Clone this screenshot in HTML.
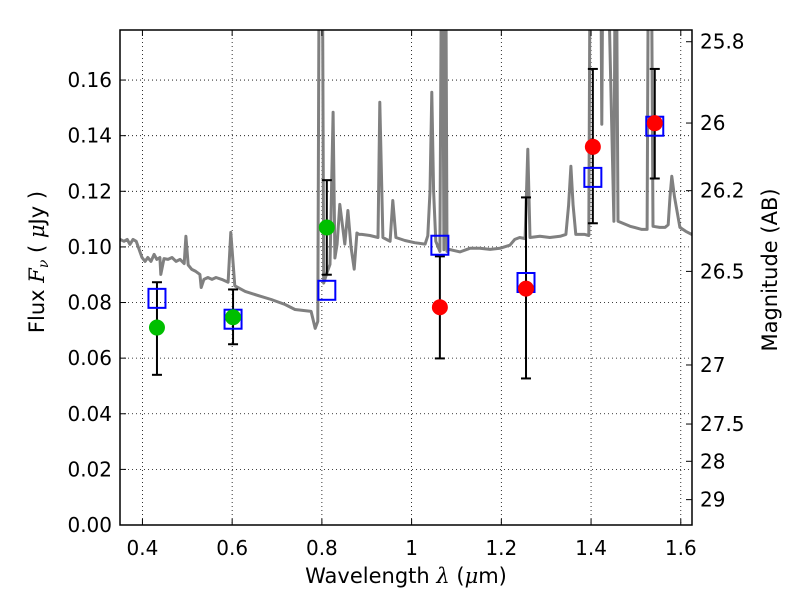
<!DOCTYPE html>
<html><head><meta charset="utf-8"><style>
body{margin:0;background:#fff}
svg text{font-family:"DejaVu Sans","Liberation Sans",sans-serif;fill:#000}
</style></head><body>
<svg id="chart" width="800" height="600" xmlns="http://www.w3.org/2000/svg">
<defs><clipPath id="clip"><rect x="120" y="30" width="572" height="495"/></clipPath></defs>
<g id="grid"></g>
<g id="spec" clip-path="url(#clip)"></g>
<g id="marks"></g>
<rect x="120" y="30" width="572" height="495" fill="none" stroke="#000" stroke-width="1.5"/>
<g id="axes"></g>
<text x="406" y="583" font-size="21" text-anchor="middle">Wavelength  <tspan font-style="italic" font-family="DejaVu Serif,serif">λ</tspan> (<tspan font-style="italic" font-family="DejaVu Serif,serif">μ</tspan>m)</text>
<text transform="translate(44,262) rotate(-90)" font-size="21" text-anchor="middle">Flux  <tspan font-style="italic" font-family="DejaVu Serif,serif">F</tspan><tspan font-style="italic" font-family="DejaVu Serif,serif" font-size="14" dy="4">ν</tspan><tspan dy="-4">   (  </tspan><tspan font-style="italic" font-family="DejaVu Serif,serif">μ</tspan>Jy )</text>
<text transform="translate(777,270) rotate(-90)" font-size="21" text-anchor="middle">Magnitude (AB)</text>
</svg>
<script>
const xTicks=[0.4,0.6,0.8,1,1.2,1.4,1.6];
const yTicks=[0,0.02,0.04,0.06,0.08,0.10,0.12,0.14,0.16];
const yTickLabels=["0.00","0.02","0.04","0.06","0.08","0.10","0.12","0.14","0.16"];
const magTicks=[25.8,26,26.2,26.5,27,27.5,28,29];
const specWl=[0.350,0.359,0.366,0.372,0.379,0.386,0.395,0.399,0.406,0.412,0.419,0.426,0.432,0.439,0.441,0.448,0.457,0.466,0.475,0.484,0.493,0.497,0.502,0.510,0.519,0.528,0.531,0.537,0.546,0.555,0.564,0.577,0.591,0.597,0.606,0.629,0.658,0.687,0.718,0.740,0.776,0.785,0.791,0.795,0.800,0.804,0.811,0.818,0.825,0.829,0.834,0.840,0.851,0.858,0.865,0.872,0.878,0.883,0.889,0.907,0.925,0.929,0.936,0.952,0.958,0.965,0.985,1.007,1.030,1.036,1.041,1.045,1.049,1.054,1.063,1.068,1.072,1.075,1.079,1.084,1.108,1.130,1.152,1.175,1.197,1.219,1.230,1.241,1.253,1.259,1.264,1.286,1.308,1.331,1.344,1.350,1.355,1.360,1.366,1.386,1.395,1.399,1.402,1.420,1.424,1.428,1.431,1.451,1.455,1.460,1.487,1.513,1.525,1.529,1.533,1.538,1.553,1.565,1.572,1.576,1.580,1.586,1.598,1.611,1.629];
const specFlux=[0.1027,0.1020,0.1027,0.1009,0.1027,0.1020,0.0980,0.0962,0.0948,0.0962,0.0948,0.0973,0.0955,0.0962,0.0901,0.0958,0.0955,0.0962,0.0948,0.0955,0.0940,0.1038,0.0935,0.0919,0.0912,0.0901,0.0854,0.0883,0.0890,0.0883,0.0890,0.0883,0.0873,0.1052,0.0860,0.0840,0.0825,0.0811,0.0793,0.0775,0.0768,0.0707,0.0732,0.25,0.25,0.0870,0.0905,0.0937,0.1484,0.0960,0.1010,0.1153,0.1010,0.1131,0.1000,0.0920,0.1050,0.1045,0.1045,0.1041,0.1034,0.1520,0.1034,0.1020,0.1167,0.1034,0.1023,0.1015,0.1010,0.1040,0.1200,0.1556,0.1200,0.1020,0.0984,0.25,0.0990,0.25,0.0984,0.0991,0.0982,0.0995,0.0995,0.0991,0.0995,0.1006,0.1027,0.1034,0.1030,0.1351,0.1034,0.1038,0.1034,0.1038,0.1045,0.1150,0.1290,0.1150,0.1045,0.1045,0.1041,0.25,0.25,0.25,0.1441,0.25,0.25,0.1092,0.25,0.1092,0.1074,0.1063,0.1063,0.25,0.25,0.1074,0.1070,0.1070,0.1080,0.1180,0.1254,0.1180,0.1070,0.1056,0.1041,0.1034];
const obsWl=[0.4324,0.602,0.811,1.063,1.255,1.404,1.542];
const obsFlux=[0.071,0.0747,0.107,0.0783,0.085,0.136,0.1445];
const obsHi=[0.0873,0.0847,0.124,0.0966,0.1178,0.164,0.164];
const obsLo=[0.054,0.065,0.090,0.0599,0.0527,0.1085,0.1246];
const obsColor=["#00bf00","#00bf00","#00bf00","#ff0000","#ff0000","#ff0000","#ff0000"];
const modelFlux=[0.0815,0.074,0.0844,0.1006,0.0872,0.125,0.1434];
const X0=0.35,X1=1.625,Y0=0,Y1=0.178,L=120,R=692,T=30,B=525;
const sx=v=>L+(v-X0)/(X1-X0)*(R-L);
const sy=v=>B-(v-Y0)/(Y1-Y0)*(B-T);
const NS="http://www.w3.org/2000/svg";
function mk(tag,attrs,parent){const e=document.createElementNS(NS,tag);for(const k in attrs)e.setAttribute(k,attrs[k]);parent.appendChild(e);return e;}
const grid=document.getElementById('grid'),axes=document.getElementById('axes'),spec=document.getElementById('spec'),marks=document.getElementById('marks');
xTicks.forEach(v=>{const x=sx(v);
 let g=mk('line',{x1:x,x2:x,y1:T,y2:B,stroke:'#000','stroke-width':0.8,'stroke-dasharray':'1,3'},grid);
 
 mk('line',{x1:x,x2:x,y1:B,y2:B-6,stroke:'#000'},axes);mk('line',{x1:x,x2:x,y1:T,y2:T+6,stroke:'#000'},axes);
 let t=mk('text',{x:x,y:555,'font-size':20,'text-anchor':'middle'},axes);t.textContent=String(v);
 });
yTicks.forEach((v,i)=>{const y=sy(v);
 if(i>0){let g=mk('line',{x1:L,x2:R,y1:y,y2:y,stroke:'#000','stroke-width':0.8,'stroke-dasharray':'1,3'},grid);
 }
 mk('line',{x1:L,x2:L+6,y1:y,y2:y,stroke:'#000'},axes);
 let t=mk('text',{x:112,y:y+7,'font-size':20,'text-anchor':'end'},axes);t.textContent=yTickLabels[i];
 });
magTicks.forEach(m=>{const f=Math.pow(10,(23.9-m)/2.5);const y=sy(f);
 mk('line',{x1:R,x2:R-6,y1:y,y2:y,stroke:'#000'},axes);
 let t=mk('text',{x:700,y:y+7,'font-size':20},axes);t.textContent=String(m);
 });
let d=specWl.map((w,i)=>(i?'L':'M')+sx(w).toFixed(1)+','+sy(specFlux[i]).toFixed(1)).join('');
let p=mk('path',{d:d,fill:'none',stroke:'#808080','stroke-width':3,'stroke-linejoin':'round'},spec);

obsWl.forEach((w,i)=>{const x=sx(w);
 let e=mk('line',{x1:x,x2:x,y1:sy(obsHi[i]),y2:sy(obsLo[i]),stroke:'#000','stroke-width':2},marks);
 
 mk('line',{x1:x-5,x2:x+5,y1:sy(obsHi[i]),y2:sy(obsHi[i]),stroke:'#000','stroke-width':2},marks);
 mk('line',{x1:x-5,x2:x+5,y1:sy(obsLo[i]),y2:sy(obsLo[i]),stroke:'#000','stroke-width':2},marks);
 let s=mk('rect',{x:x-8.5,y:sy(modelFlux[i])-9.5,width:17,height:19,fill:'none',stroke:'#0000ff','stroke-width':2},marks);
 
 let c=mk('circle',{cx:x,cy:sy(obsFlux[i]),r:8,fill:obsColor[i]},marks);
 });
</script>
</body></html>
